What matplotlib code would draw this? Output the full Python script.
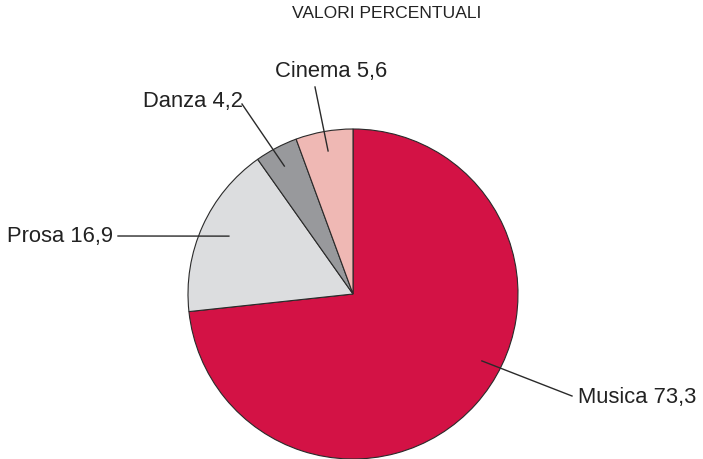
import matplotlib
matplotlib.use("Agg")
import matplotlib.pyplot as plt
import numpy as np

categories = ["Musica", "Prosa", "Danza", "Cinema"]
values = [73.3, 16.9, 4.2, 5.6]
labels = ["Musica 73,3", "Prosa 16,9", "Danza 4,2", "Cinema 5,6"]
colors = ["#D31245", "#DCDDDF", "#98999C", "#EFB8B4"]

W, H = 703, 460
fig = plt.figure(figsize=(W / 100, H / 100), dpi=100)
ax = fig.add_axes([0, 0, 1, 1])

cx, cy, R = 353, H - 295, 165
wedges, _ = ax.pie(values, colors=colors, startangle=90, counterclock=False,
                   center=(cx, cy), radius=R, frame=True,
                   wedgeprops=dict(edgecolor="#2a2a2a", linewidth=0.8))
ax.set_xlim(0, W)
ax.set_ylim(0, H)
ax.set_aspect("equal")
ax.axis("off")

# label layout: anchor angle offset (deg from wedge mid), anchor radius frac, text pos, alignment
anchor_shift = [14.5, -0.7, 0.5, -0.2]
anchor_frac = [0.88, 0.83, 0.88, 0.88]
text_pos = [(578, H - 398), (113, H - 237), (243, H - 101), (331, H - 72)]
line_end = [(572, H - 397), (118, H - 237), (242, H - 105), (315, H - 88)]
ha = ["left", "right", "right", "center"]

for w, lab, sh, fr, tp, le, a in zip(wedges, labels, anchor_shift, anchor_frac,
                                      text_pos, line_end, ha):
    mid = np.deg2rad((w.theta1 + w.theta2) / 2 + sh)
    x0 = cx + fr * R * np.cos(mid)
    y0 = cy + fr * R * np.sin(mid)
    ax.plot([x0, le[0]], [y0, le[1]], color="#2a2a2a", lw=1.0)
    ax.text(tp[0], tp[1], lab, ha=a, va="center", fontsize=15.8,
            family="Liberation Sans", color="#222222")

ax.text(387, H - 13, "VALORI PERCENTUALI", ha="center", va="center",
        fontsize=12.6, family="Liberation Sans", color="#222222")

fig.savefig("out.png", dpi=100)
